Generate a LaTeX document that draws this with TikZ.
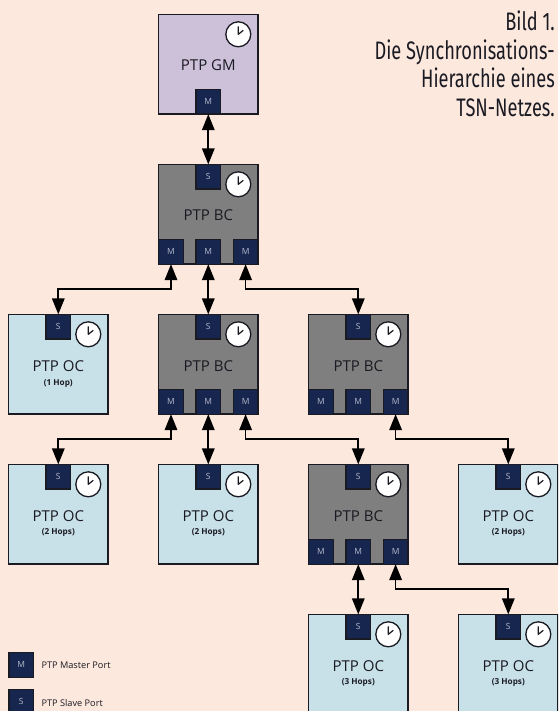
\documentclass[tikz,border=0pt]{standalone}
\usepackage{fontspec}
\setmainfont{Open Sans}
\newfontfamily\capfont[FakeStretch=0.72]{Fira Sans}
\usetikzlibrary{arrows.meta}
\definecolor{bg}{HTML}{FDE8DE}
\definecolor{gmfill}{HTML}{CCC1D9}
\definecolor{bcfill}{HTML}{7F7F7F}
\definecolor{ocfill}{HTML}{C8E0E8}
\definecolor{portfill}{HTML}{17264F}
\definecolor{porttext}{HTML}{B4B8CC}
\definecolor{ink}{HTML}{1A1A22}
\tikzset{
  x=1pt,y=-1pt,
  devbox/.style={draw=ink,line width=1.3pt,minimum size=99.3pt,inner sep=0pt,outer sep=0pt},
  gmbox/.style={devbox,fill=gmfill},
  bcbox/.style={devbox,fill=bcfill},
  ocbox/.style={devbox,fill=ocfill},
  portbox/.style={draw=ink,line width=1.3pt,fill=portfill,minimum size=24.7pt,inner sep=0pt,outer sep=0pt,text=porttext,font=\fontsize{8.5}{10}\selectfont},
  title/.style={text=ink,font=\fontsize{15}{18}\selectfont,inner sep=0pt},
  hops/.style={text=ink,font=\fontsize{8.2}{10}\selectfont\bfseries,inner sep=0pt},
  legend/.style={text=ink,font=\fontsize{9.2}{11}\selectfont,anchor=west,inner sep=0pt},
  clockface/.style={draw=ink,line width=1.3pt,fill=white,circle,minimum size=25pt,inner sep=0pt,outer sep=0pt},
  link/.style={draw=black,line width=1.7pt,{Triangle[width=12.5pt,length=16pt]}-{Triangle[width=12.5pt,length=16pt]}},
}
\newcommand{\clockat}[2]{%
  \node[clockface] (#2) at (#1) {};
  \draw[ink,line width=1.2pt,line join=round] ([yshift=8pt]#2.center) -- (#2.center) -- ([xshift=5pt,yshift=4pt]#2.center);
}
\begin{document}
\begin{tikzpicture}
\useasboundingbox (0,0) rectangle (558,711);
\clip (0,0) rectangle (558,711);
\fill[bg] (0,0) rectangle (558,711);
\begin{scope}[shift={(0.3,0.3)}]

% Devices
\node[gmbox] (gm) at (208,64) {};
\node[bcbox] (bca) at (208,214) {};
\node[ocbox] (oca) at (58,364) {};
\node[bcbox] (bcb) at (208,364) {};
\node[bcbox] (bcc) at (358,364) {};
\node[ocbox] (ocb) at (58,514) {};
\node[ocbox] (occ) at (208,514) {};
\node[bcbox] (bcd) at (358,514) {};
\node[ocbox] (ocd) at (508,514) {};
\node[ocbox] (oce) at (358,664) {};
\node[ocbox] (ocf) at (508,664) {};

% Titles
\node[title] (tgm) at (208,65) {PTP GM};
\node[title] (tbca) at (208,215.3) {PTP BC};
\node[title] (tbcb) at (208,366) {PTP BC};
\node[title] (tbcc) at (358,366) {PTP BC};
\node[title] (tbcd) at (358,516) {PTP BC};
\node[title] (toca) at (58,366) {PTP OC};
\node[title] (tocb) at (58,516) {PTP OC};
\node[title] (tocc) at (208,516) {PTP OC};
\node[title] (tocd) at (508,516) {PTP OC};
\node[title] (toce) at (358,666) {PTP OC};
\node[title] (tocf) at (508,666) {PTP OC};
\node[hops] (ha) at (58,383) {(1 Hop)};
\node[hops] (hb) at (58,532.7) {(2 Hops)};
\node[hops] (hc) at (208,532.7) {(2 Hops)};
\node[hops] (hd) at (508,532.7) {(2 Hops)};
\node[hops] (he) at (358,682.7) {(3 Hops)};
\node[hops] (hf) at (508,682.7) {(3 Hops)};

% Ports
\node[portbox] (gmm) at (208,101.5) {M};
\node[portbox] (bcas) at (208,176.4) {S};
\node[portbox] (bcal) at (170.7,251.5) {M};
\node[portbox] (bcam) at (208,251.5) {M};
\node[portbox] (bcar) at (245.3,251.5) {M};
\node[portbox] (ocas) at (58,326.4) {S};
\node[portbox] (bcbs) at (208,326.4) {S};
\node[portbox] (bcbl) at (170.7,401.5) {M};
\node[portbox] (bcbm) at (208,401.5) {M};
\node[portbox] (bcbr) at (245.3,401.5) {M};
\node[portbox] (bccs) at (358,326.4) {S};
\node[portbox] (bccl) at (320.7,401.5) {M};
\node[portbox] (bccm) at (358,401.5) {M};
\node[portbox] (bccr) at (395.3,401.5) {M};
\node[portbox] (ocbs) at (58,476.4) {S};
\node[portbox] (occs) at (208,476.4) {S};
\node[portbox] (bcds) at (358,476.4) {S};
\node[portbox] (bcdl) at (320.7,551.5) {M};
\node[portbox] (bcdm) at (358,551.5) {M};
\node[portbox] (bcdr) at (395.3,551.5) {M};
\node[portbox] (ocds) at (508,476.4) {S};
\node[portbox] (oces) at (358,626.4) {S};
\node[portbox] (ocfs) at (508,626.4) {S};

% Clocks
\clockat{238,34}{cgm}
\clockat{238,184}{cbca}
\clockat{88,334}{coca}
\clockat{238,334}{cbcb}
\clockat{388,334}{cbcc}
\clockat{88,484}{cocb}
\clockat{238,484}{cocc}
\clockat{388,484}{cbcd}
\clockat{538,484}{cocd}
\clockat{388,634}{coce}
\clockat{538,634}{cocf}

% Links
\draw[link] (gmm.south) -- (bcas.north);
\draw[link] (bcam.south) -- (bcbs.north);
\draw[link] (bcal.south) -- ++(0,24.5) -| (ocas.north);
\draw[link] (bcar.south) -- ++(0,24.5) -| (bccs.north);
\draw[link] (bcbm.south) -- (occs.north);
\draw[link] (bcbl.south) -- ++(0,24.5) -| (ocbs.north);
\draw[link] (bcbr.south) -- ++(0,24.5) -| (bcds.north);
\draw[link] (bccr.south) -- ++(0,24.5) -| (ocds.north);
\draw[link] (bcdm.south) -- (oces.north);
\draw[link] (bcdr.south) -- ++(0,24.5) -| (ocfs.north);

% Legend
\node[portbox] (lm) at (21,664.5) {M};
\node[legend] (lmt) at (41,665) {PTP Master Port};
\node[portbox] (ls) at (21,701.5) {S};
\node[legend] (lst) at (41,703) {PTP Slave Port};
\end{scope}

% Caption
\node[anchor=north east,align=right,inner sep=0pt,text=ink,font=\capfont\fontsize{25.3}{28.5}\selectfont] (cap) at (555,11) {Bild 1.\\Die Synchronisations-\\Hierarchie eines\\TSN-Netzes.};
\end{tikzpicture}
\end{document}
